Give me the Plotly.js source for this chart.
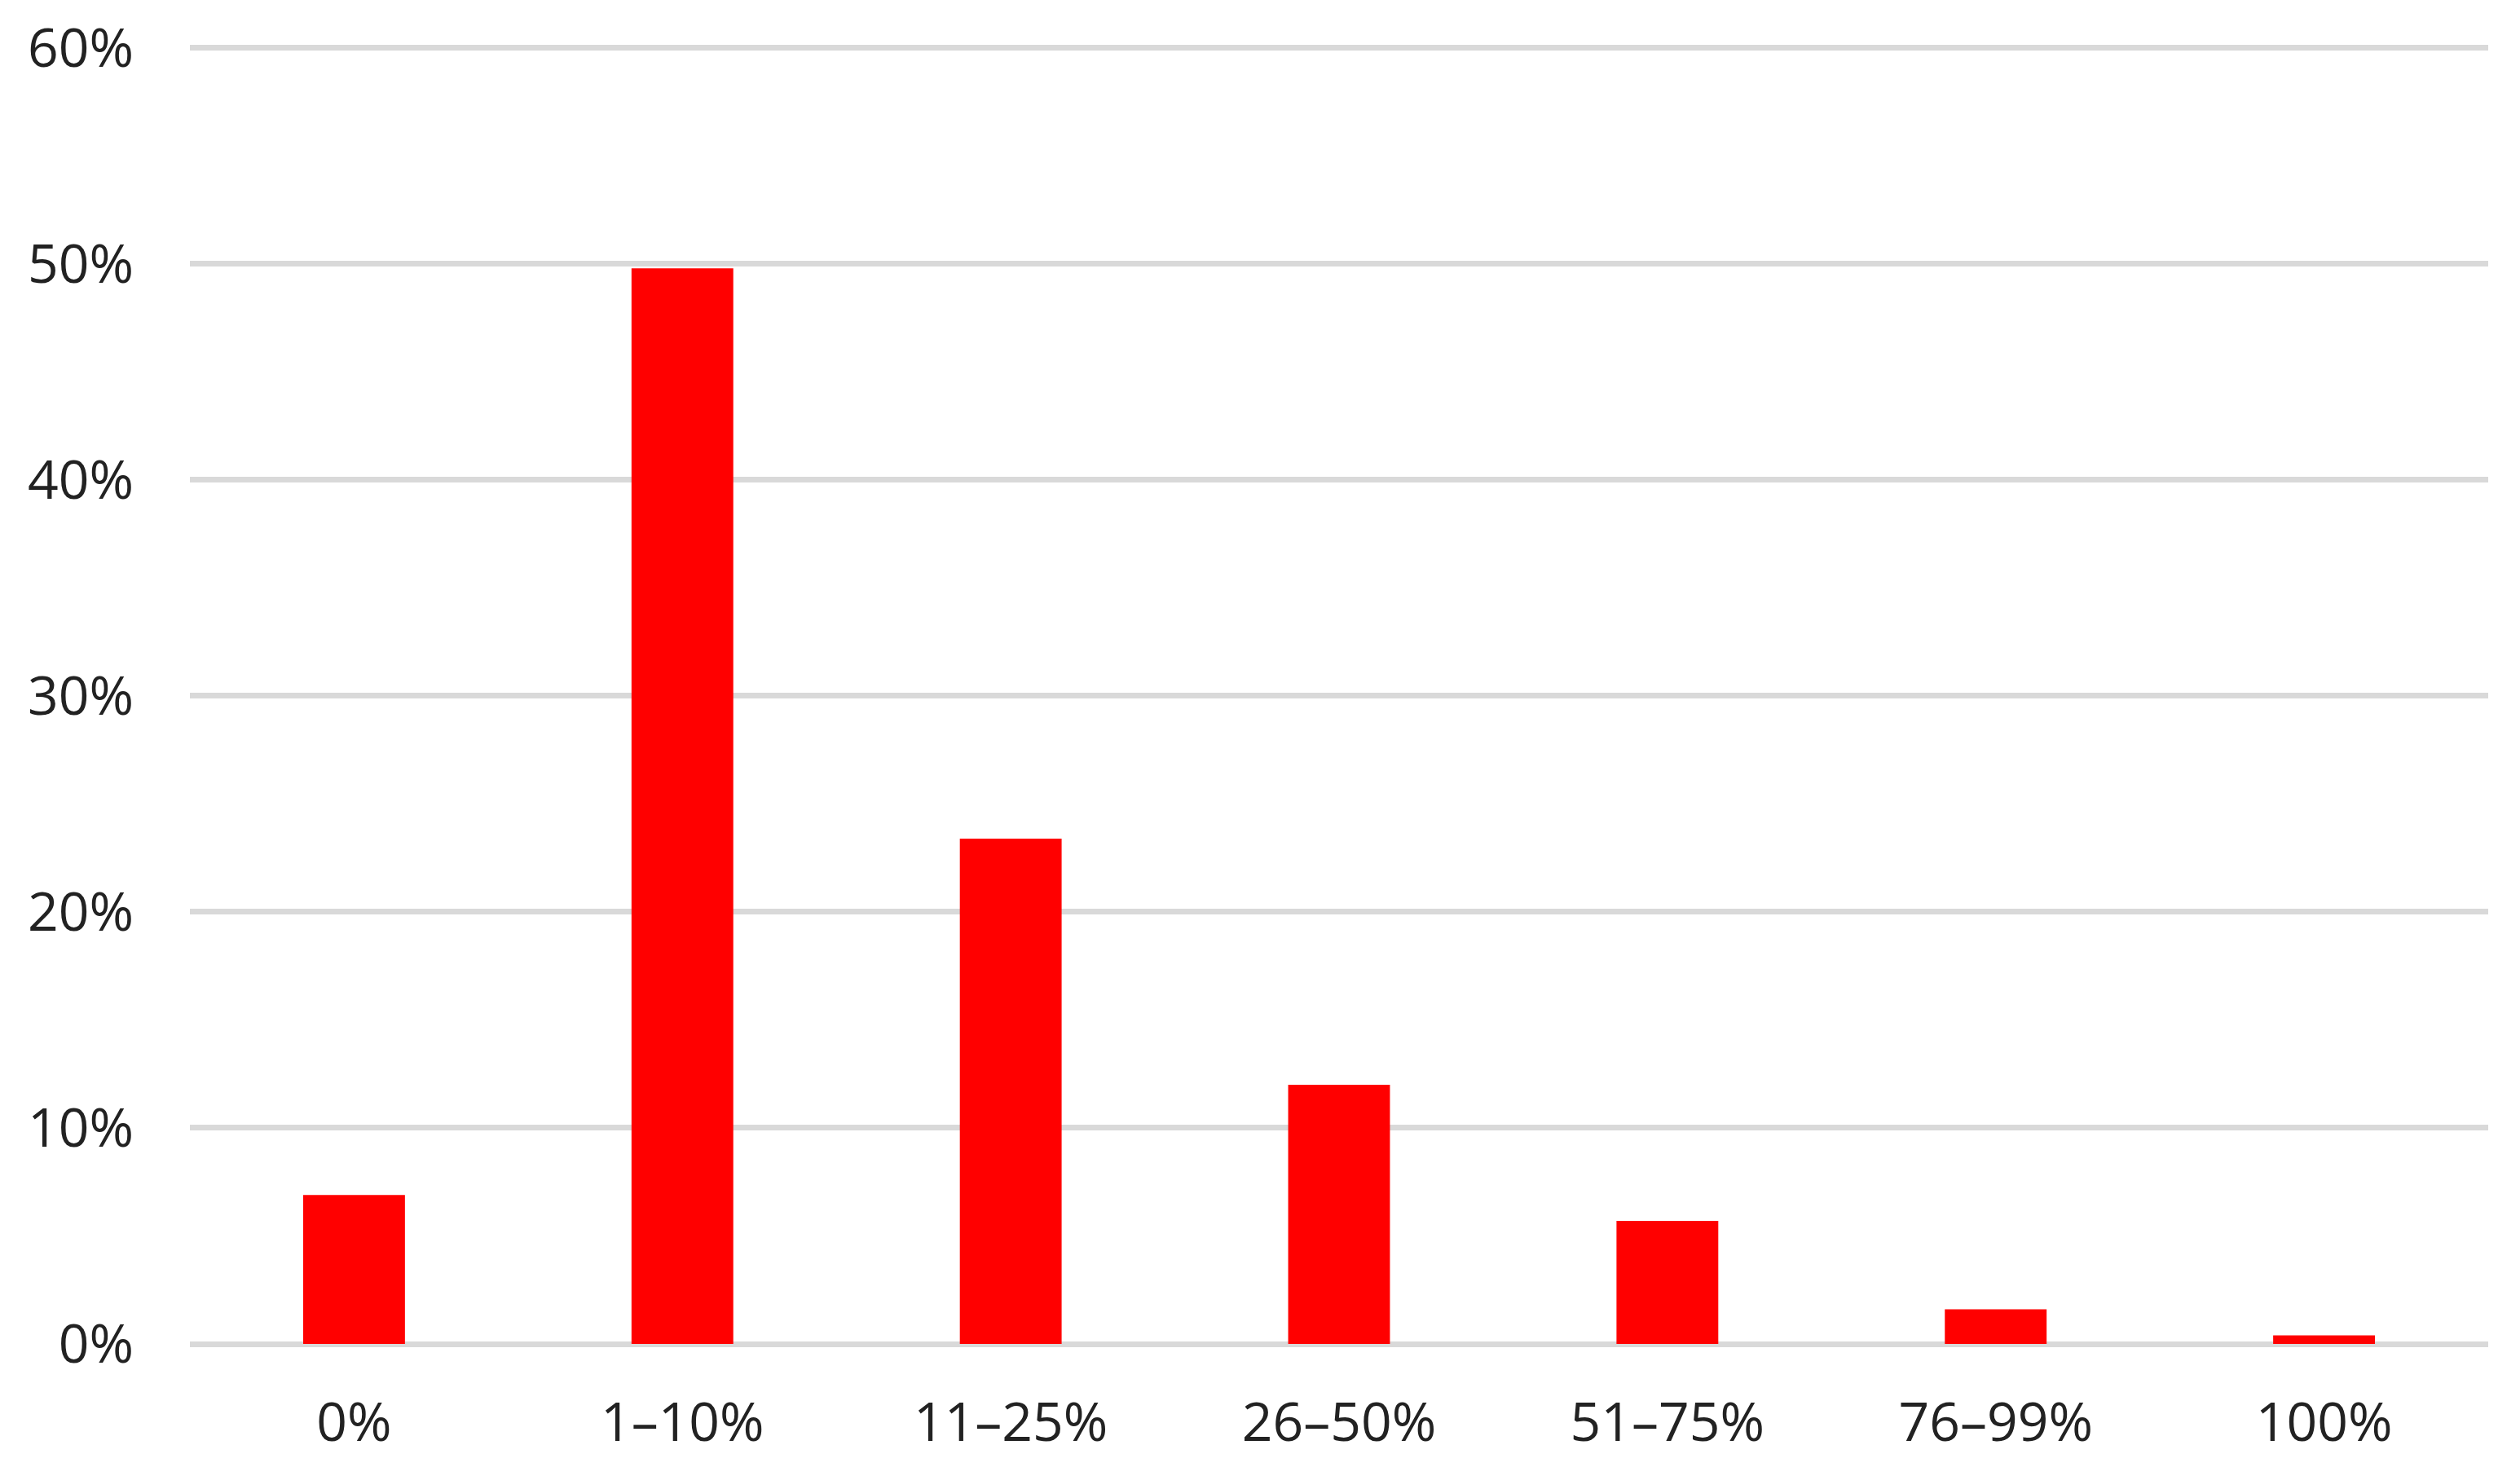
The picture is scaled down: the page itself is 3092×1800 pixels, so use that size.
<!DOCTYPE html>
<html>
<head>
<meta charset="utf-8">
<script src="https://cdn.plot.ly/plotly-3.0.1.min.js"></script>
<style>html,body{margin:0;padding:0;background:#fff;}#chart{width:3092px;height:1800px;}</style>
</head>
<body>
<div id="chart"></div>
<script>
const categories = ["0%", "1–10%", "11–25%", "26–50%", "51–75%", "76–99%", "100%"];
const shares = [6.9, 49.8, 23.4, 12.0, 5.7, 1.6, 0.4];
const yTickValues = [0, 10, 20, 30, 40, 50, 60];
const yTickLabels = ["0%", "10%", "20%", "30%", "40%", "50%", "60%"];

const trace = {
  type: "bar",
  x: categories,
  y: shares,
  marker: {color: "#ff0000", line: {width: 0}},
  hoverinfo: "skip"
};

const layout = {
  width: 3092,
  height: 1800,
  margin: {l: 233, r: 39, t: 51, b: 151},
  paper_bgcolor: "#ffffff",
  plot_bgcolor: "#ffffff",
  showlegend: false,
  bargap: 0.69,
  font: {family: "Open Sans, Noto Sans, DejaVu Sans, sans-serif", size: 66, color: "#222222"},
  xaxis: {
    type: "category",
    showgrid: false,
    showline: false,
    zeroline: false,
    ticks: "",
    ticklabelstandoff: 52,
    tickfont: {size: 66, color: "#222222"}
  },
  yaxis: {
    range: [0, 60.3],
    tickvals: yTickValues,
    ticktext: yTickLabels,
    showgrid: true,
    gridcolor: "#d9d9d9",
    gridwidth: 7,
    zeroline: true,
    zerolinecolor: "#d9d9d9",
    zerolinewidth: 7,
    showline: false,
    ticks: "",
    ticklabelstandoff: 68,
    tickfont: {size: 66, color: "#222222"}
  }
};

Plotly.newPlot("chart", [trace], layout, {staticPlot: true, displayModeBar: false});
</script>
</body>
</html>
